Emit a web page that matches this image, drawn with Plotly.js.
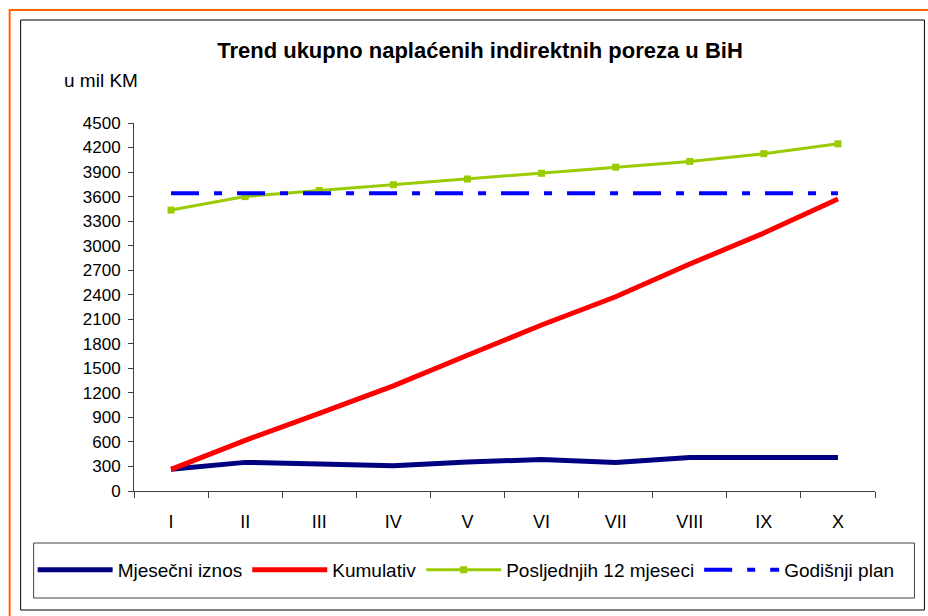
<!DOCTYPE html>
<html>
<head>
<meta charset="utf-8">
<script src="https://cdn.plot.ly/plotly-3.0.1.min.js"></script>
<style>html,body{margin:0;padding:0;background:#fff;}#chart{width:928px;height:616px;}</style>
</head>
<body>
<div id="chart"></div>
<script>
const months = ['I','II','III','IV','V','VI','VII','VIII','IX','X'];
const monthly = [265, 350, 330, 310, 355, 385, 350, 410, 410, 410];
const cumulative = [265, 620, 950, 1285, 1660, 2030, 2375, 2775, 3155, 3570];
const last12 = [3435, 3600, 3675, 3745, 3815, 3885, 3960, 4030, 4125, 4245];
const plan = [3640, 3640, 3640, 3640, 3640, 3640, 3640, 3640, 3640, 3640];
const seriesNames = ['Mjesečni iznos', 'Kumulativ', 'Posljednjih 12 mjeseci', 'Godišnji plan'];
const yTicks = [0,300,600,900,1200,1500,1800,2100,2400,2700,3000,3300,3600,3900,4200,4500];

const FONT = 'Liberation Sans, Arial, sans-serif';
// plot area in pixels
const L = 133.5, R = 875.5, T = 123, B = 491, W = 928, H = 616;
const px = X => (X - L) / (R - L);
const py = Y => (B - Y) / (B - T);

const traces = [
  {x: months, y: monthly, name: seriesNames[0], type: 'scatter', mode: 'lines',
   line: {color: '#000080', width: 5}},
  {x: months, y: cumulative, name: seriesNames[1], type: 'scatter', mode: 'lines',
   line: {color: '#FF0000', width: 5}},
  {x: months, y: last12, name: seriesNames[2], type: 'scatter', mode: 'lines+markers',
   line: {color: '#99CC00', width: 3}, marker: {symbol: 'square', size: 7, color: '#99CC00'}},
  {x: months, y: plan, name: seriesNames[3], type: 'scatter', mode: 'lines',
   line: {color: '#0000FF', width: 4, dash: '28px,15px,8px,15px'}}
];

const layout = {
  width: W, height: H,
  margin: {l: L, r: W - R, t: T, b: H - B, pad: 0},
  paper_bgcolor: '#ffffff', plot_bgcolor: '#ffffff',
  font: {family: FONT, color: '#000', size: 16},
  title: {text: '<b>Trend ukupno naplaćenih indirektnih poreza u BiH</b>',
          font: {family: FONT, size: 22, color: '#000'},
          x: 480 / W, xanchor: 'center', xref: 'container',
          y: 1 - 50 / H, yanchor: 'middle', yref: 'container'},
  xaxis: {type: 'category', range: [-0.5, 9.5], showgrid: false, zeroline: false,
          showline: true, linecolor: '#404040', linewidth: 1,
          ticks: 'outside', tickson: 'boundaries', ticklen: 6, tickcolor: '#404040',
          ticklabelstandoff: 14,
          tickfont: {family: FONT, size: 18, color: '#000'}, fixedrange: true},
  yaxis: {range: [0, 4500], tickvals: yTicks, ticktext: yTicks.map(String),
          showgrid: false, zeroline: false, showline: true, linecolor: '#404040', linewidth: 1,
          ticks: 'outside', ticklen: 5, tickcolor: '#404040', ticklabelstandoff: 4,
          tickfont: {family: FONT, size: 17, color: '#000'}, fixedrange: true},
  showlegend: true,
  legend: {orientation: 'h', x: px(32), xanchor: 'left', y: py(570), yanchor: 'middle',
           font: {family: FONT, size: 19, color: '#000'}, bgcolor: 'rgba(0,0,0,0)',
           borderwidth: 0, itemwidth: 75, traceorder: 'normal'},
  shapes: [
    {type: 'rect', xref: 'paper', yref: 'paper', x0: px(9), x1: px(940), y0: py(640), y1: py(10),
     line: {color: '#FF6600', width: 2}, layer: 'below'},
    {type: 'rect', xref: 'paper', yref: 'paper', x0: px(20), x1: px(925), y0: py(610), y1: py(20),
     line: {color: '#000000', width: 1}, layer: 'below'},
    {type: 'rect', xref: 'paper', yref: 'paper', x0: px(33), x1: px(915), y0: py(598), y1: py(543),
     line: {color: '#404040', width: 1}, layer: 'below'}
  ],
  annotations: [
    {text: 'u mil KM', xref: 'paper', yref: 'paper', x: px(61), y: py(80),
     xanchor: 'left', yanchor: 'middle', showarrow: false,
     font: {family: FONT, size: 19, color: '#000'}}
  ]
};

Plotly.newPlot('chart', traces, layout, {displayModeBar: false, staticPlot: true});
</script>
</body>
</html>
